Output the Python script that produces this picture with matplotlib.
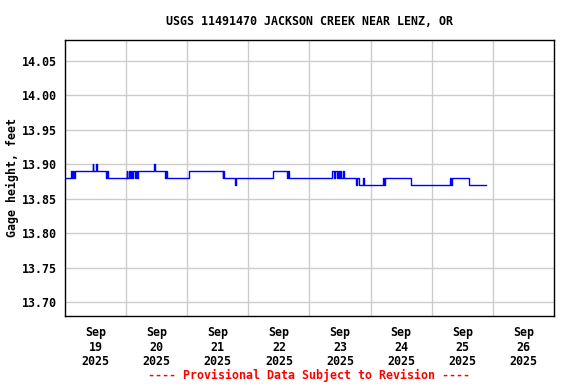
import matplotlib
matplotlib.use("Agg")
import matplotlib.pyplot as plt

plt.rcParams['font.family'] = ['DejaVu Sans Mono']
plt.rcParams['font.weight'] = 'bold'

# hours since Sep 19 2025 00:00, and gage height (ft) from that time on
hours = [0.4, 2.4, 2.75, 3.1, 3.5, 3.9, 11.0, 11.2, 12.2, 12.4,
         16.1, 16.5, 16.9,
         24.2, 24.5, 25.1, 25.5, 25.9, 26.3, 26.7, 27.3, 27.7, 28.1, 28.5,
         35.0, 35.2, 39.3, 39.7, 40.1,
         48.7, 61.9, 62.1, 62.3, 66.8, 67.0,
         81.5, 87.2, 87.6, 88.0,
         104.9, 105.7, 106.1, 106.7, 107.3, 107.7, 108.1, 108.5, 109.2, 109.7,
         114.2, 114.7, 115.5, 116.2, 117.2, 117.5,
         124.8, 125.2, 125.6,
         135.5, 135.8, 136.0,
         151.0, 151.6, 152.0, 152.5, 158.8, 165.2]
height = [13.88, 13.89, 13.88, 13.89, 13.88, 13.89, 13.90, 13.89, 13.90, 13.89,
          13.88, 13.89, 13.88,
          13.89, 13.88, 13.89, 13.88, 13.89, 13.88, 13.89, 13.88, 13.89, 13.88, 13.89,
          13.90, 13.89, 13.88, 13.89, 13.88,
          13.89, 13.88, 13.89, 13.88, 13.87, 13.88,
          13.89, 13.88, 13.89, 13.88,
          13.89, 13.88, 13.89, 13.88, 13.89, 13.88, 13.89, 13.88, 13.89, 13.88,
          13.87, 13.88, 13.87, 13.87, 13.88, 13.87,
          13.88, 13.87, 13.88,
          13.88, 13.87, 13.87,
          13.88, 13.87, 13.88, 13.88, 13.87, 13.87]

day_labels = ['Sep\n19\n2025', 'Sep\n20\n2025', 'Sep\n21\n2025', 'Sep\n22\n2025',
              'Sep\n23\n2025', 'Sep\n24\n2025', 'Sep\n25\n2025', 'Sep\n26\n2025']
y_ticks = [13.70, 13.75, 13.80, 13.85, 13.90, 13.95, 14.00, 14.05]

fig = plt.figure(figsize=(5.76, 3.84), dpi=100)
ax = fig.add_axes([0.1128, 0.177, 0.8490, 0.719])

ax.plot(hours, height, drawstyle='steps-post', color='#0000ff', linewidth=1)

ax.set_xlim(0, 192)
ax.set_ylim(13.68, 14.08)

ax.set_xticks([24 * i for i in range(1, 8)])
ax.set_xticklabels([])
ax.set_xticks([24 * i + 12 for i in range(8)], minor=True)
ax.set_xticklabels(day_labels, minor=True, fontsize=8.4, fontweight='bold',
                   linespacing=1.15)
ax.tick_params(axis='x', which='both', length=0, pad=7.5)

ax.set_yticks(y_ticks)
ax.set_yticklabels(['%.2f' % v for v in y_ticks], fontsize=8.4, fontweight='bold')
ax.tick_params(axis='y', length=0, pad=5.5)

ax.grid(True, which='major', color='#cccccc', linewidth=1)
ax.set_axisbelow(True)
for s in ax.spines.values():
    s.set_linewidth(1)

ax.set_ylabel('Gage height, feet', fontsize=8.4, fontweight='bold')
ax.yaxis.set_label_coords(-0.094, 0.5)
ax.set_title('USGS 11491470 JACKSON CREEK NEAR LENZ, OR', fontsize=8.4,
             fontweight='bold', pad=11)
ax.text(0.5, (9 - 384 * 0.177) / (384 * 0.719),
        '---- Provisional Data Subject to Revision ----',
        transform=ax.transAxes, ha='center', va='center', fontsize=8.4,
        fontweight='bold', color='red')

fig.savefig('out.png', dpi=100)
